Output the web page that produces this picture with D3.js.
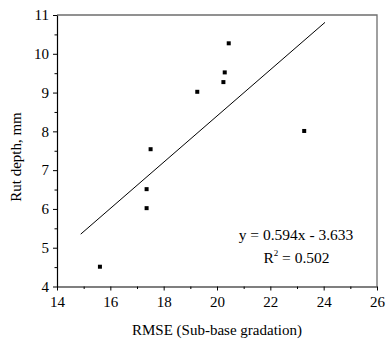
<!DOCTYPE html>
<html><head><meta charset="utf-8">
<script src="https://cdn.jsdelivr.net/npm/d3@7"></script>
<style>body{margin:0;background:#fff}svg{display:block}</style>
</head><body>
<svg id="c" width="386" height="341"></svg>
<script>
const rmse = [15.61, 17.36, 17.36, 17.51, 19.26, 20.24, 20.29, 20.44, 23.27];
const rut  = [4.51, 6.02, 6.51, 7.54, 9.02, 9.27, 9.52, 10.27, 8.01];
const fitX = [14.89, 24.05];
const fitY = [5.35, 10.81];
const xTicks = [14, 16, 18, 20, 22, 24, 26];
const yTicks = [4, 5, 6, 7, 8, 9, 10, 11];
const xTitle = "RMSE (Sub-base gradation)";
const yTitle = "Rut depth, mm";
const eqLine = "y = 0.594x - 3.633";
const r2Value = "0.502";

const svg = d3.select("#c");
const L = 57, R = 377, T = 15, B = 286.5;
const x = d3.scaleLinear().domain([14, 26]).range([L, R]);
const y = d3.scaleLinear().domain([4, 11]).range([B, T]);
const font = "'Liberation Serif','Times New Roman',serif";

// frame (top & right)
svg.append("path").attr("d", `M${L},${T}H${R}V${B}`).attr("fill","none").attr("stroke","#6e6e6e").attr("stroke-width",1.3);

// minor ticks
const xMinor = d3.range(15, 26, 2);
const yMinor = d3.range(4.5, 11, 1);
const gx = svg.append("g").attr("transform", `translate(0,${B})`)
  .call(d3.axisBottom(x).tickValues(xMinor).tickSize(2.5).tickFormat(""));
gx.select(".domain").remove();
const gy = svg.append("g").attr("transform", `translate(${L},0)`)
  .call(d3.axisLeft(y).tickValues(yMinor).tickSize(2.5).tickFormat(""));
gy.select(".domain").remove();

const ax = svg.append("g").attr("transform", `translate(0,${B})`)
  .call(d3.axisBottom(x).tickValues(xTicks).tickSize(4).tickSizeOuter(0).tickPadding(4).tickFormat(d3.format("d")));
const ay = svg.append("g").attr("transform", `translate(${L},0)`)
  .call(d3.axisLeft(y).tickValues(yTicks).tickSize(4).tickSizeOuter(0).tickPadding(4).tickFormat(d3.format("d")));
[ax, ay].forEach(g => {
  g.selectAll("text").attr("font-family", font).attr("font-size", 15).attr("fill", "#000");
  g.selectAll("line").attr("stroke", "#000");
  g.select(".domain").attr("stroke", "#000").attr("stroke-width", 1.2);
});
ax.selectAll("text").attr("dy", null).attr("y", 20);

// trend line
svg.append("line")
  .attr("x1", x(fitX[0])).attr("y1", y(fitY[0]))
  .attr("x2", x(fitX[1])).attr("y2", y(fitY[1]))
  .attr("stroke", "#000").attr("stroke-width", 1);

// points
svg.selectAll("rect.pt").data(rmse.map((v,i)=>[v, rut[i]])).enter().append("rect")
  .attr("class","pt")
  .attr("x", d => x(d[0]) - 2).attr("y", d => y(d[1]) - 2)
  .attr("width", 4).attr("height", 4).attr("fill", "#000");

// titles
svg.append("text").attr("x", 217).attr("y", 335).attr("text-anchor","middle")
  .attr("font-family", font).attr("font-size", 15).text(xTitle);
svg.append("text").attr("transform", "translate(21,157) rotate(-90)").attr("text-anchor","middle")
  .attr("font-family", font).attr("font-size", 15).text(yTitle);

// equation
svg.append("text").attr("x", 296).attr("y", 240).attr("text-anchor","middle")
  .attr("font-family", font).attr("font-size", 15.5).text(eqLine);
const r2 = svg.append("text").attr("x", 296.5).attr("y", 263).attr("text-anchor","middle")
  .attr("font-family", font).attr("font-size", 15.5);
r2.append("tspan").text("R");
r2.append("tspan").attr("font-size", 9).attr("dy", -7).text("2");
r2.append("tspan").attr("dy", 7).text(" = " + r2Value);
</script>
</body></html>
